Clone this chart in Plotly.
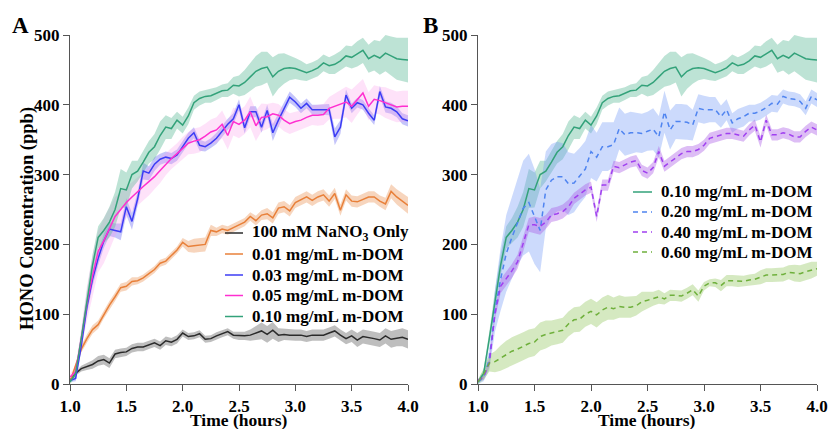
import plotly.graph_objects as go

# Sampling times (hours), one reading every 3 minutes
time_h = [round(1.0 + 0.05 * i, 2) for i in range(61)]

# ---- Panel A: HONO (ppb), mean and standard deviation ----
nano3_only = [5, 15, 22, 25, 28, 33, 35, 30, 43, 45, 46, 51, 53, 53, 56, 59, 55, 62, 60, 64,
              73, 68, 69, 72, 64, 65, 69, 72, 75, 70, 69, 69, 70, 73, 76, 71, 77, 70, 71, 70,
              70, 70, 68, 70, 70, 70, 73, 76, 70, 65, 69, 63, 68, 67, 65, 63, 69, 64, 66, 67, 64]
nano3_only_sd = [2, 3, 4, 5, 6, 7, 7, 7, 6, 6, 6, 6, 6, 6, 6, 6, 6, 6, 6, 6,
                 5, 5, 5, 5, 5, 5, 5, 5, 5, 5, 6, 6, 8, 10, 12, 12, 12, 10, 8, 8,
                 8, 8, 8, 8, 8, 8, 8, 8, 8, 8, 9, 10, 10, 10, 10, 10, 11, 12, 12, 13, 13]

dom_001 = [3, 25, 50, 65, 78, 85, 100, 113, 125, 138, 140, 147, 148, 152, 158, 164, 173, 176, 184, 192,
           203, 197, 198, 199, 200, 220, 218, 222, 220, 224, 228, 232, 240, 234, 242, 244, 238, 252, 254, 248,
           260, 264, 268, 263, 268, 271, 262, 273, 249, 271, 262, 261, 265, 268, 268, 262, 258, 276, 268, 262, 256]
dom_001_sd = [2, 4, 5, 6, 6, 6, 6, 6, 6, 6, 6, 6, 5, 5, 5, 5, 5, 5, 5, 5,
              6, 8, 10, 10, 10, 8, 6, 6, 6, 6, 6, 6, 6, 7, 7, 8, 8, 8, 8, 8,
              8, 8, 8, 8, 8, 8, 8, 8, 8, 8, 8, 8, 8, 8, 8, 8, 9, 10, 11, 12, 12]

dom_003 = [5, 8, 55, 110, 150, 180, 205, 222, 220, 218, 254, 233, 265, 305, 302, 315, 322, 325, 323, 328,
           340, 352, 360, 342, 340, 345, 352, 362, 372, 380, 400, 367, 390, 390, 368, 392, 360, 378, 395, 411,
           404, 395, 402, 393, 393, 393, 393, 354, 368, 414, 395, 403, 400, 388, 378, 419, 397, 395, 390, 380, 377]
dom_003_sd = [2, 4, 8, 10, 10, 10, 10, 10, 10, 12, 12, 12, 10, 12, 10, 10, 8, 8, 8, 8,
              8, 8, 8, 8, 7, 7, 8, 8, 8, 8, 8, 8, 8, 8, 8, 8, 12, 10, 8, 8,
              7, 7, 7, 7, 7, 7, 8, 12, 10, 8, 7, 7, 7, 7, 7, 8, 8, 8, 8, 8, 8]

dom_005 = [10, 18, 65, 115, 155, 190, 205, 222, 240, 250, 260, 268, 276, 283, 290, 297, 306, 315, 323, 330,
           338, 345, 348, 350, 355, 361, 364, 372, 356, 376, 372, 378, 390, 370, 382, 383, 387, 385, 378, 373,
           376, 378, 382, 385, 385, 386, 395, 398, 400, 404, 398, 408, 417, 398, 408, 406, 403, 400, 397, 398, 398]
dom_005_sd = [4, 8, 15, 25, 30, 30, 32, 30, 28, 25, 22, 20, 20, 20, 20, 18, 18, 16, 15, 15,
              16, 16, 18, 18, 18, 18, 18, 20, 20, 20, 20, 20, 22, 22, 20, 18, 16, 16, 16, 15,
              14, 14, 14, 14, 15, 15, 16, 18, 20, 22, 24, 22, 20, 20, 20, 20, 22, 22, 22, 22, 22]

dom_010 = [3, 15, 65, 120, 170, 210, 220, 232, 250, 280, 278, 300, 305, 318, 332, 340, 356, 368, 366, 378,
           371, 384, 403, 409, 412, 413, 416, 420, 421, 428, 427, 432, 440, 448, 452, 454, 440, 448, 452, 453,
           452, 449, 446, 449, 453, 460, 456, 458, 463, 470, 468, 473, 478, 466, 471, 467, 474, 470, 466, 465, 464]
dom_010_sd = [3, 6, 10, 14, 15, 16, 18, 22, 25, 28, 25, 20, 15, 15, 16, 18, 20, 17, 15, 12,
              12, 12, 10, 10, 9, 10, 9, 9, 10, 12, 15, 18, 20, 22, 24, 22, 28, 25, 22, 18,
              15, 14, 12, 12, 12, 12, 12, 14, 14, 15, 16, 18, 18, 20, 22, 24, 26, 28, 30, 31, 32]

# ---- Panel B: higher m-DOM loadings ----
dom_020 = [3, 10, 35, 105, 150, 187, 210, 232, 252, 260, 240, 220, 278, 292, 297, 297, 287, 288, 298, 308,
           333, 325, 340, 340, 343, 366, 357, 360, 360, 359, 362, 365, 354, 390, 364, 376, 376, 375, 371, 395,
           393, 393, 393, 383, 393, 374, 380, 383, 388, 388, 391, 396, 402, 401, 412, 409, 408, 405, 395, 412, 407]
dom_020_sd = [3, 6, 15, 30, 45, 55, 58, 62, 68, 70, 68, 60, 55, 52, 50, 48, 45, 42, 40, 40,
              38, 35, 35, 35, 32, 30, 30, 30, 28, 28, 28, 30, 30, 30, 28, 25, 25, 25, 22, 20,
              20, 18, 18, 16, 15, 14, 14, 14, 12, 12, 12, 12, 12, 12, 10, 10, 10, 10, 10, 10, 10]

dom_040 = [5, 10, 30, 100, 140, 151, 162, 175, 200, 228, 228, 226, 232, 242, 244, 247, 254, 266, 272, 278,
           282, 240, 285, 285, 312, 310, 314, 318, 320, 306, 302, 310, 333, 312, 318, 324, 330, 333, 333, 336,
           342, 352, 354, 357, 359, 359, 357, 355, 364, 371, 347, 378, 357, 357, 360, 358, 354, 354, 362, 368, 364]
dom_040_sd = [2, 4, 6, 8, 10, 10, 10, 10, 10, 10, 12, 12, 10, 10, 10, 10, 10, 8, 8, 8,
              8, 8, 8, 8, 8, 8, 8, 8, 8, 8, 8, 8, 8, 8, 8, 8, 8, 8, 8, 8,
              8, 8, 8, 8, 8, 8, 8, 8, 8, 8, 8, 8, 8, 8, 8, 8, 8, 8, 8, 8, 8]

dom_060 = [3, 14, 30, 32, 37, 42, 47, 50, 54, 58, 60, 68, 71, 73, 75, 77, 86, 92, 93, 100,
           104, 99, 106, 110, 108, 111, 110, 110, 112, 118, 120, 122, 125, 122, 127, 127, 126, 130, 135, 126,
           140, 145, 145, 141, 148, 148, 147, 147, 149, 150, 153, 156, 156, 156, 157, 160, 159, 158, 161, 163, 165]
dom_060_sd = [3, 8, 12, 15, 18, 20, 20, 20, 20, 20, 20, 20, 20, 18, 18, 18, 18, 18, 18, 18,
              18, 18, 18, 18, 16, 16, 15, 15, 14, 14, 12, 10, 10, 8, 8, 8, 8, 8, 8, 8,
              6, 5, 6, 8, 8, 8, 8, 8, 8, 8, 10, 10, 10, 10, 10, 10, 12, 12, 12, 12, 10]

SERIF = "Liberation Serif"
AXIS_GREY = "#555555"
DASH = "5px,4px"

# (name, mean, sd, line colour, band colour, dash)
series_a = [
    ("100 mM NaNO<sub>3</sub> Only", nano3_only, nano3_only_sd, "#2b2b2b", "rgba(120,120,120,0.48)", "solid"),
    ("0.01 mg/mL m-DOM", dom_001, dom_001_sd, "#e8803a", "rgba(236,150,90,0.40)", "solid"),
    ("0.03 mg/mL m-DOM", dom_003, dom_003_sd, "#3c3cf5", "rgba(90,90,240,0.35)", "solid"),
    ("0.05 mg/mL m-DOM", dom_005, dom_005_sd, "#ff2fd0", "rgba(250,150,235,0.28)", "solid"),
    ("0.10 mg/mL m-DOM", dom_010, dom_010_sd, "#33a27a", "rgba(90,185,150,0.40)", "solid"),
]
series_b = [
    ("0.10 mg/mL m-DOM", dom_010, dom_010_sd, "#33a27a", "rgba(90,185,150,0.40)", "solid"),
    ("0.20 mg/mL m-DOM", dom_020, dom_020_sd, "#4f84f0", "rgba(110,150,245,0.35)", DASH),
    ("0.40 mg/mL m-DOM", dom_040, dom_040_sd, "#a040f0", "rgba(170,90,230,0.40)", DASH),
    ("0.60 mg/mL m-DOM", dom_060, dom_060_sd, "#6fb03c", "rgba(150,200,100,0.40)", DASH),
]

fig = go.Figure()


def add_panel(series, xa, ya):
    # shaded mean ± sd bands first, then the mean lines on top
    for name, mean, sd, lc, bc, dash in series:
        upper = [m + s for m, s in zip(mean, sd)]
        lower = [m - s for m, s in zip(mean, sd)]
        fig.add_trace(go.Scatter(
            x=time_h + time_h[::-1], y=upper + lower[::-1],
            fill="toself", fillcolor=bc, line=dict(width=0),
            mode="lines", hoverinfo="skip", showlegend=False,
            xaxis=xa, yaxis=ya))
    for name, mean, sd, lc, bc, dash in series:
        fig.add_trace(go.Scatter(
            x=time_h, y=mean, mode="lines", name=name, showlegend=False,
            line=dict(color=lc, width=1.5, dash=dash),
            xaxis=xa, yaxis=ya))


add_panel(series_a, "x", "y")
add_panel(series_b, "x2", "y2")

W, H = 829, 429


def px_x(p):
    return p / W


def px_y(p):
    return 1 - p / H


tick_font = dict(family=SERIF, size=17, color="black", weight="bold")
common_x = dict(range=[1.0, 4.0], tickvals=[1.0, 1.5, 2.0, 2.5, 3.0, 3.5, 4.0],
                ticktext=["1.0", "1.5", "2.0", "2.5", "3.0", "3.5", "4.0"],
                showline=True, linecolor=AXIS_GREY, linewidth=1.3, ticks="outside",
                ticklen=6, tickcolor=AXIS_GREY, tickwidth=1.3, showgrid=False,
                zeroline=False, tickfont=tick_font, automargin=False)
common_y = dict(range=[0, 500], tickvals=[0, 100, 200, 300, 400, 500],
                showline=True, linecolor=AXIS_GREY, linewidth=1.3, ticks="outside",
                ticklen=6, tickcolor=AXIS_GREY, tickwidth=1.3, showgrid=False,
                zeroline=False, tickfont=tick_font, automargin=False)

y_dom = [px_y(384), px_y(35)]
fig.update_layout(
    width=W, height=H, margin=dict(l=0, r=0, t=0, b=0, autoexpand=False),
    paper_bgcolor="white", plot_bgcolor="white", showlegend=False,
    xaxis={**common_x, "domain": [px_x(70), px_x(408)], "anchor": "y"},
    yaxis={**common_y, "domain": y_dom, "anchor": "x"},
    xaxis2={**common_x, "domain": [px_x(478), px_x(817)], "anchor": "y2"},
    yaxis2={**common_y, "domain": y_dom, "anchor": "x2"},
)

# Legend keys: short line sample followed by the series label
legend_font = dict(family=SERIF, size=17, color="black", weight="bold")
legend_a_rows = [233, 254, 275, 295.5, 316.5]
legend_b_rows = [192, 212, 232, 252]
for rows, series, x0, x1, tx in ((legend_a_rows, series_a, 225, 243, 250),
                                 (legend_b_rows, series_b, 633, 652, 659)):
    for ry, (name, mean, sd, lc, bc, dash) in zip(rows, series):
        fig.add_shape(type="line", xref="paper", yref="paper",
                      x0=px_x(x0), x1=px_x(x1), y0=px_y(ry), y1=px_y(ry),
                      line=dict(color=lc, width=1.5, dash=dash))
        fig.add_annotation(text=name, xref="paper", yref="paper",
                           x=px_x(tx), y=px_y(ry), xanchor="left", yanchor="middle",
                           showarrow=False, font=legend_font)

title_font = dict(family=SERIF, size=17.5, color="black", weight="bold")
annotations = [
    dict(text="Time (hours)", x=px_x(239), y=px_y(420), font=title_font),
    dict(text="Time (hours)", x=px_x(647), y=px_y(420), font=title_font),
    dict(text="HONO Concentration (ppb)", x=px_x(27), y=px_y(219), textangle=-90,
         font=dict(family=SERIF, size=18.5, color="black", weight="bold")),
    dict(text="A", x=px_x(20), y=px_y(26), font=dict(family=SERIF, size=23, color="black", weight="bold")),
    dict(text="B", x=px_x(430), y=px_y(25), font=dict(family=SERIF, size=23, color="black", weight="bold")),
]
for a in annotations:
    fig.add_annotation(xref="paper", yref="paper", showarrow=False,
                       xanchor="center", yanchor="middle", **a)

fig.write_html("out.html")
